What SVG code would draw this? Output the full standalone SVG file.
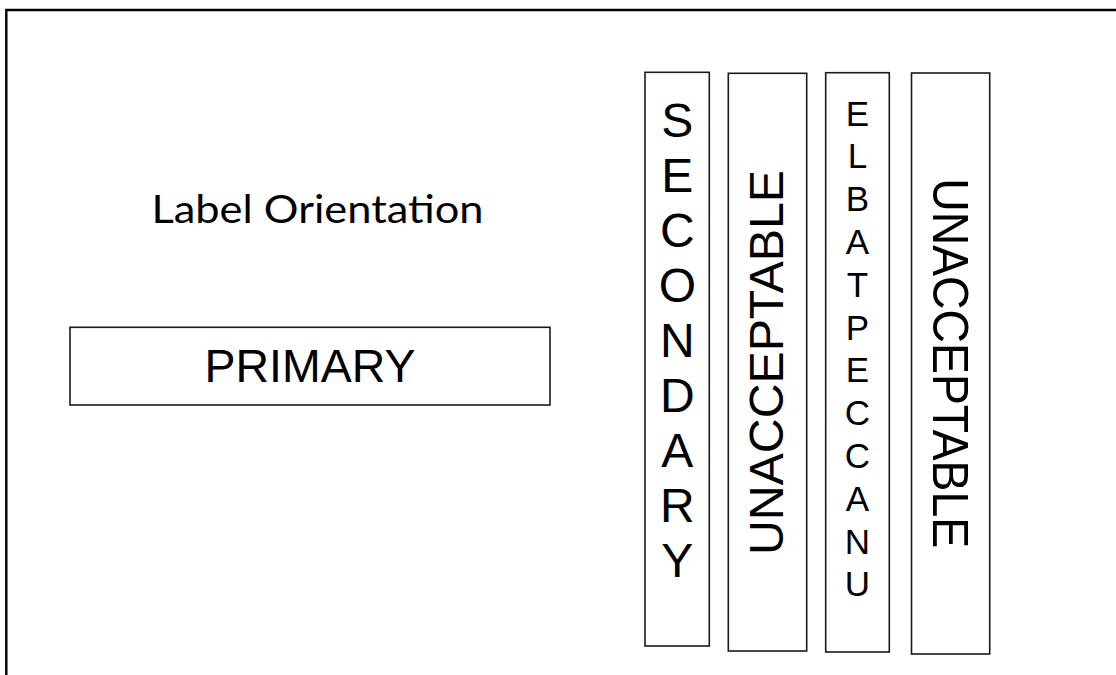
<svg xmlns="http://www.w3.org/2000/svg" width="1116" height="675" viewBox="0 0 1116 675">
<style>
.box{fill:#fff;stroke:#1a1a1a;stroke-width:1.6}
.t{font-family:"Liberation Sans",Arial,sans-serif;fill:#000;text-anchor:middle}
</style>
<rect x="0" y="0" width="1116" height="675" fill="#fff"/>
<g id="frame"><path d="M6.3,675 V10 H1116" fill="none" stroke="#000" stroke-width="2.4"/></g>
<g id="title"><text x="317.5" y="223.3" font-family="Lato,'Open Sans',sans-serif" font-size="38" text-anchor="middle" textLength="332" lengthAdjust="spacingAndGlyphs" fill="#000">Label Orientation</text></g>
<g id="primary">
<rect class="box" x="70" y="327.3" width="480" height="77.7"/>
<text class="t" x="310" y="381.7" font-size="46.5">PRIMARY</text>
</g>
<g id="secondary">
<rect class="box" x="645" y="72.3" width="64.3" height="573.7"/>
<g class="t" font-size="48">
<text x="677.3" y="136.7">S</text>
<text x="677.3" y="191.7">E</text>
<text x="677.3" y="246.7">C</text>
<text x="677.3" y="301.7">O</text>
<text x="677.3" y="356.7">N</text>
<text x="677.3" y="411.7">D</text>
<text x="677.3" y="466.7">A</text>
<text x="677.3" y="521.7">R</text>
<text x="677.3" y="576.7">Y</text>
</g>
</g>
<g id="unacceptable1">
<rect class="box" x="728.3" y="73.3" width="78.4" height="577.7"/>
<text class="t" font-size="47.5" transform="translate(783.3,362.5) rotate(-90)" x="0" y="0" textLength="385" lengthAdjust="spacingAndGlyphs">UNACCEPTABLE</text>
</g>
<g id="unacceptable2">
<rect class="box" x="825.7" y="72.7" width="63.6" height="579.3"/>
<g class="t" font-size="35">
<text x="857.5" y="125.5">E</text>
<text x="857.5" y="168.3">L</text>
<text x="857.5" y="211.1">B</text>
<text x="857.5" y="253.9">A</text>
<text x="857.5" y="296.7">T</text>
<text x="857.5" y="339.5">P</text>
<text x="857.5" y="382.3">E</text>
<text x="857.5" y="425.1">C</text>
<text x="857.5" y="467.9">C</text>
<text x="857.5" y="510.7">A</text>
<text x="857.5" y="553.5">N</text>
<text x="857.5" y="596.3">U</text>
</g>
</g>
<g id="unacceptable3">
<rect class="box" x="911.5" y="73" width="78.2" height="581"/>
<text class="t" font-size="50" transform="translate(933.3,363.2) rotate(90)" x="0" y="0" textLength="370" lengthAdjust="spacingAndGlyphs">UNACCEPTABLE</text>
</g>
<g id="connectors"></g>
</svg>
